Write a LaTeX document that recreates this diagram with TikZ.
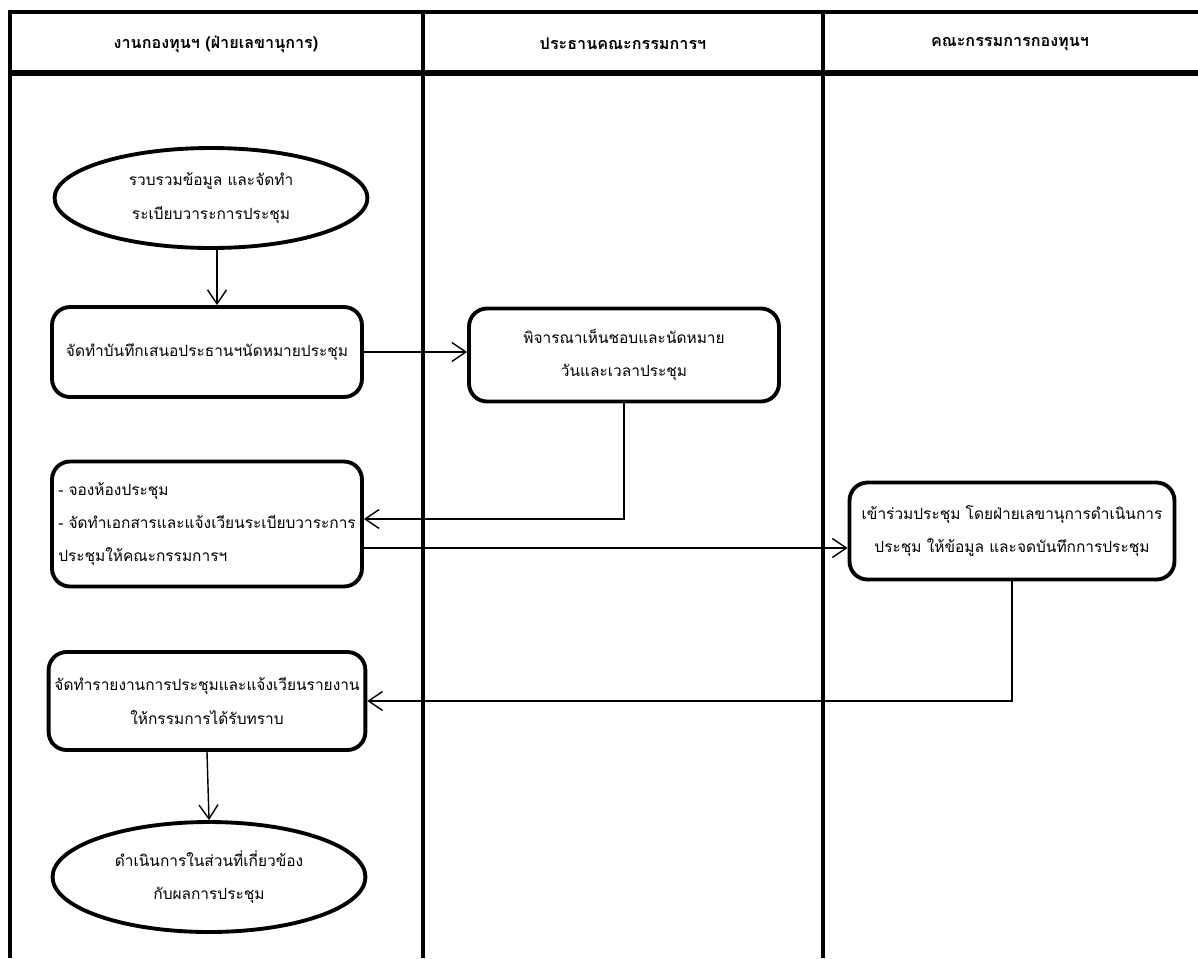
\documentclass[tikz,border=0pt]{standalone}
\usepackage{fontspec}
\newfontfamily\thaifont[Script=Thai]{Loma}
\usetikzlibrary{shapes.geometric,arrows.meta}

\begin{document}
\begin{tikzpicture}[x=0.02cm,y=-0.02cm,
  lane/.style={line width=1.8pt},
  head/.style={font=\thaifont\bfseries\fontsize{9.2}{11}\selectfont},
  box/.style={draw,rectangle,rounded corners=0.36cm,line width=2.2pt,minimum width=6.2cm,align=center,font=\thaifont\fontsize{8.8}{19}\selectfont},
  oval/.style={draw,ellipse,line width=2.2pt,minimum width=6.26cm,align=center,font=\thaifont\fontsize{8.8}{19}\selectfont},
  flow/.style={-{Straight Barb[length=2.8mm,width=3.8mm]},line width=0.8pt}]
\useasboundingbox (0,0) rectangle (1198,958);

% lanes
\draw[lane] (10,958) -- (10,12) -- (1198,12);
\draw[line width=3.4pt] (10,73) -- (1198,73);
\draw[lane,line width=2.2pt] (423,12) -- (423,958);
\draw[lane,line width=2.2pt] (823,12) -- (823,958);
\node[head] (h1) at (216,44) {งานกองทุนฯ (ฝ่ายเลขานุการ)};
\node[head] (h2) at (623,44) {ประธานคณะกรรมการฯ};
\node[head] (h3) at (1010,44) {คณะกรรมการกองทุนฯ};

% steps
\node[oval,minimum height=2cm] (start) at (211,198) {รวบรวมข้อมูล และจัดทำ\\ระเบียบวาระการประชุม};
\node[box,minimum height=1.8cm] (memo) at (207,352) {จัดทำบันทึกเสนอประธานฯนัดหมายประชุม};
\node[box,minimum height=1.86cm] (approve) at (624,355) {พิจารณาเห็นชอบและนัดหมาย\\วันและเวลาประชุม};
\node[box,minimum height=2.5cm,align=left] (book) at (207,524) {- จองห้องประชุม\\- จัดทำเอกสารและแจ้งเวียนระเบียบวาระการ\\ประชุมให้คณะกรรมการฯ};
\node[box,minimum width=6.5cm,minimum height=1.94cm] (meet) at (1012,531) {เข้าร่วมประชุม โดยฝ่ายเลขานุการดำเนินการ\\ประชุม ให้ข้อมูล และจดบันทึกการประชุม};
\node[box,minimum height=1.96cm] (report) at (207,701) {จัดทำรายงานการประชุมและแจ้งเวียนรายงาน\\ให้กรรมการได้รับทราบ};
\node[oval,minimum height=2.2cm] (finish) at (209,877) {ดำเนินการในส่วนที่เกี่ยวข้อง\\กับผลการประชุม};

% connectors
\draw[flow] ([xshift=0.12cm]start.south) -- ([xshift=0.12cm]start.south |- memo.north);
\draw[flow] (memo.east) -- (memo.east -| approve.west);
\draw[flow] (approve.south) |- ([yshift=0.1cm]book.east);
\draw[flow] ([yshift=-0.48cm]book.east) -- ([yshift=-0.48cm]book.east -| meet.west);
\draw[flow] (meet.south) |- (report.east);
\draw[flow] (report.south) -- (finish.north);
\end{tikzpicture}
\end{document}
